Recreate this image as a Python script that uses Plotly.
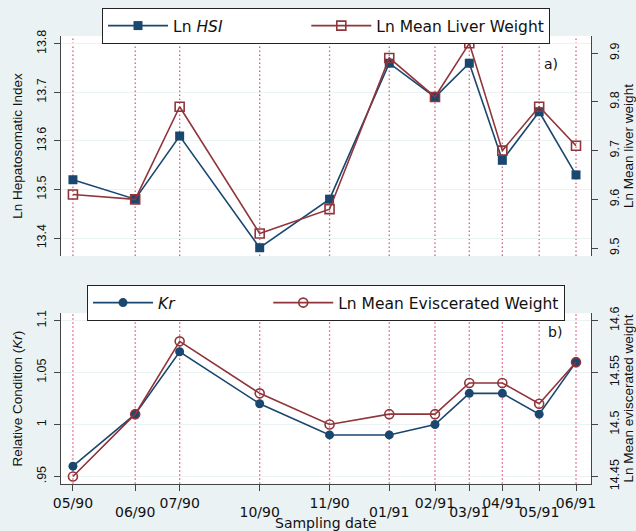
import plotly.graph_objects as go

sample_days = [0, 49, 84, 147, 202, 249, 285, 312, 338, 367, 396]
date_labels = ["05/90", "06/90", "07/90", "10/90", "11/90", "01/91",
               "02/91", "03/91", "04/91", "05/91", "06/91"]

ln_hsi = [13.52, 13.48, 13.61, 13.38, 13.48, 13.76, 13.69, 13.76, 13.56, 13.66, 13.53]
ln_liver = [9.61, 9.60, 9.79, 9.53, 9.58, 9.89, 9.81, 9.92, 9.70, 9.79, 9.71]
kr = [0.96, 1.01, 1.07, 1.02, 0.99, 0.99, 1.00, 1.03, 1.03, 1.01, 1.06]
ln_evisc = [14.45, 14.51, 14.58, 14.53, 14.50, 14.51, 14.51, 14.54, 14.54, 14.52, 14.56]

hsi_ticks = [13.4, 13.5, 13.6, 13.7, 13.8]
liver_ticks = [9.5, 9.6, 9.7, 9.8, 9.9]
kr_ticks = [0.95, 1.0, 1.05, 1.1]
kr_ticktext = [".95", "1", "1.05", "1.1"]
evisc_ticks = [14.45, 14.5, 14.55, 14.6]
evisc_ticktext = ["14.45", "14.5", "14.55", "14.6"]

NAVY = "#1a476f"
MAROON = "#90353b"
BG = "#eaf2f3"
GRID = "#eaf2f3"
VLINE = "#e2587a"
AXC = "#444444"
NB = "\u00a0"

W, H = 636, 531
def px(x):
    return x / W
def py(y):
    return 1 - y / H

XDOM = [px(61), px(591)]
TOPDOM = [py(256), py(36)]
BOTDOM = [py(483.8), py(313.3)]
XRANGE = [-9.4, 407.8]

tickfont_y = dict(family="Liberation Sans, Arial", size=12.5, color="#111")
titlefont_y = dict(family="Liberation Sans, Arial", size=13.5, color="#111")
xfont = dict(family="DejaVu Sans, Arial", size=14, color="#111")

row2_vals = [d for i, d in enumerate(sample_days) if i % 2 == 1]
row2_text = [t for i, t in enumerate(date_labels) if i % 2 == 1]

fig = go.Figure()

fig.add_trace(go.Scatter(
    x=sample_days, y=ln_hsi, mode="lines+markers", name="Ln <i>HSI</i>" + NB * 16,
    line=dict(color=NAVY, width=1.6),
    marker=dict(symbol="square", size=9, color=NAVY),
    xaxis="x", yaxis="y", legend="legend"))
fig.add_trace(go.Scatter(
    x=sample_days, y=ln_liver, mode="lines+markers", name="Ln Mean Liver Weight",
    line=dict(color=MAROON, width=1.6),
    marker=dict(symbol="square-open", size=9, color=MAROON, line=dict(width=1.6)),
    xaxis="x", yaxis="y2", legend="legend"))
fig.add_trace(go.Scatter(
    x=sample_days, y=kr, mode="lines+markers", name="<i>Kr</i>" + NB * 18,
    line=dict(color=NAVY, width=1.6),
    marker=dict(symbol="circle", size=9, color=NAVY),
    xaxis="x2", yaxis="y3", legend="legend2"))
fig.add_trace(go.Scatter(
    x=sample_days, y=ln_evisc, mode="lines+markers", name="Ln Mean Eviscerated Weight",
    line=dict(color=MAROON, width=1.6),
    marker=dict(symbol="circle-open", size=9, color=MAROON, line=dict(width=1.6)),
    xaxis="x2", yaxis="y4", legend="legend2"))
# invisible helper trace so the second row of date labels has an axis to live on
fig.add_trace(go.Scatter(x=[sample_days[0]], y=[kr[0]], mode="markers", opacity=0,
                         showlegend=False, hoverinfo="skip", xaxis="x3", yaxis="y3"))

shapes = []
for d in sample_days:
    for xr, yr in (("x", "y"), ("x2", "y3")):
        shapes.append(dict(type="line", xref=xr, yref=yr + " domain", x0=d, x1=d, y0=0, y1=1,
                           line=dict(color=VLINE, width=1.3, dash="1.5px,2.5px"), layer="below"))

legend_common = dict(orientation="h", bgcolor="white", bordercolor="#222", borderwidth=1,
                     font=dict(family="DejaVu Sans, Arial", size=15.5, color="#111"),
                     xanchor="center", yanchor="top", itemwidth=60,
                     tracegroupgap=0)

fig.update_layout(
    width=W, height=H, margin=dict(l=0, r=0, t=0, b=0, autoexpand=False),
    paper_bgcolor=BG, plot_bgcolor="white",
    shapes=shapes,
    xaxis=dict(domain=XDOM, range=XRANGE, anchor="y", showticklabels=False, showline=False,
               showgrid=False, zeroline=False, ticks="", automargin=False),
    xaxis2=dict(domain=XDOM, range=XRANGE, anchor="y3", tickmode="array",
                tickvals=sample_days,
                ticktext=[t if i % 2 == 0 else "" for i, t in enumerate(date_labels)],
                showline=True, linecolor=AXC, linewidth=1.2, ticks="outside", ticklen=6,
                tickcolor=AXC, showgrid=False, zeroline=False, tickfont=xfont, tickangle=0,
                ticklabelstandoff=0, automargin=False),
    xaxis3=dict(domain=XDOM, range=XRANGE, anchor="y3", overlaying="x2", side="bottom",
                tickmode="array", tickvals=row2_vals, ticktext=row2_text,
                showline=False, ticks="", showgrid=False, zeroline=False, tickfont=xfont,
                tickangle=0, ticklabelstandoff=18, automargin=False),
    yaxis=dict(domain=TOPDOM, range=[13.363, 13.816], anchor="x", tickvals=hsi_ticks,
               tickformat=".1f", tickangle=-90, tickfont=tickfont_y, showline=True,
               linecolor=AXC, linewidth=1.2, ticks="outside", ticklen=6, tickcolor=AXC,
               gridcolor=GRID, gridwidth=1.2, zeroline=False, ticklabelstandoff=3,
               automargin=False,
               title=dict(text="Ln Hepatosomatic Index", font=titlefont_y, standoff=9)),
    yaxis2=dict(range=[9.484, 9.935], overlaying="y", side="right", anchor="x",
                tickvals=liver_ticks, tickformat=".1f", tickangle=-90, tickfont=tickfont_y,
                showline=True, linecolor=AXC, linewidth=1.2, ticks="outside", ticklen=6,
                tickcolor=AXC, showgrid=False, zeroline=False, ticklabelstandoff=6,
                automargin=False,
                title=dict(text="Ln Mean liver weight", font=titlefont_y, standoff=12)),
    yaxis3=dict(domain=BOTDOM, range=[0.943, 1.107], anchor="x2", tickvals=kr_ticks,
                ticktext=kr_ticktext, tickangle=-90, tickfont=tickfont_y, showline=True,
                linecolor=AXC, linewidth=1.2, ticks="outside", ticklen=6, tickcolor=AXC,
                gridcolor=GRID, gridwidth=1.2, zeroline=False, ticklabelstandoff=3,
                automargin=False,
                title=dict(text="Relative Condition (<i>Kr</i>)", font=titlefont_y, standoff=9)),
    yaxis4=dict(range=[14.443, 14.607], overlaying="y3", side="right", anchor="x2",
                tickvals=evisc_ticks, ticktext=evisc_ticktext, tickangle=-90, tickfont=tickfont_y,
                showline=True, linecolor=AXC, linewidth=1.2, ticks="outside", ticklen=6,
                tickcolor=AXC, showgrid=False, zeroline=False, ticklabelstandoff=6,
                automargin=False,
                title=dict(text="Ln Mean eviscerated weight", font=titlefont_y, standoff=12)),
    legend=dict(x=px(326), y=py(8), **legend_common),
    legend2=dict(x=px(326), y=py(285), **legend_common),
    annotations=[
        dict(text="a)", x=px(560), y=py(54), xref="paper", yref="paper", showarrow=False,
             font=dict(family="DejaVu Sans, Arial", size=14, color="#111")),
        dict(text="b)", x=px(564), y=py(332), xref="paper", yref="paper", showarrow=False,
             font=dict(family="DejaVu Sans, Arial", size=14, color="#111")),
        dict(text="Sampling date", x=px(326), y=py(523), xref="paper", yref="paper",
             yanchor="middle", xanchor="center", showarrow=False,
             font=dict(family="DejaVu Sans, Arial", size=14, color="#111")),
    ],
    showlegend=True,
)

fig.write_html("out.html")
